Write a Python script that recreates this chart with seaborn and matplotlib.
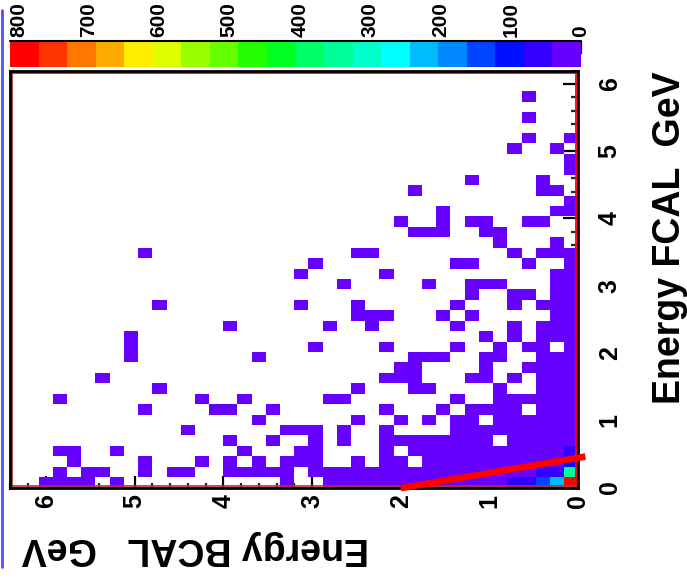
import numpy as np
import pandas as pd
import seaborn as sns
import matplotlib
matplotlib.use("Agg")
import matplotlib.pyplot as plt
from matplotlib.colors import ListedColormap
from matplotlib.ticker import MultipleLocator, FixedLocator
from matplotlib.lines import Line2D

# ---------------- data ----------------
bcal_edges = np.linspace(0.0, 6.4, 41)   # Energy BCAL bins (GeV)
fcal_edges = np.linspace(0.0, 6.2, 41)   # Energy FCAL bins (GeV)

# occupancy map: rows top (high FCAL) -> bottom (FCAL=0),
# columns left (high BCAL) -> right (BCAL=0); '.' = empty bin
cell_rows = [
    "..........|..........|..........|..........",
    "..........|..........|..........|..........",
    "..........|..........|..........|......1...",
    "..........|..........|..........|..........",
    "..........|..........|..........|......1...",
    "..........|..........|..........|..........",
    "..........|..........|..........|......1..1",
    "..........|..........|..........|.....1..1.",
    "..........|..........|..........|.........1",
    "..........|..........|..........|.........1",
    "..........|..........|..........|..1....1..",
    "..........|..........|........1.|.......11.",
    "..........|..........|..........|.........1",
    "..........|..........|..........|1.......11",
    "..........|..........|.......1..|1.11..11..",
    "..........|..........|........11|1..11.....",
    "..........|..........|..........|....1...1.",
    ".........1|..........|....11....|.....1.111",
    "..........|..........|.1........|.11...1..1",
    "..........|..........|1.....1...|........11",
    "..........|..........|...1.....1|..111...11",
    "..........|..........|..........|..1..11.11",
    "..........|1.........|1...1.....|.1...1.111",
    "..........|..........|....111...|1.1.....11",
    "..........|.....1....|..1..1....|.1...1.111",
    "........1.|..........|..........|...1.1.111",
    "........1.|..........|.1....1...|.1..1.11.1",
    "........1.|.......1..|........11|1..11..111",
    "..........|..........|.......11.|...1..1111",
    "......1...|..........|......111.|..11.1.111",
    "..........|1.........|....1...11|....1..111",
    "...1......|...1..1...|..11......|.1..111111",
    ".........1|....11..1.|......1...|1.1111.111",
    "..........|.......1..|....1..1.1|.11.111111",
    "..........|..1......1|11.1..1...|.111111111",
    "..........|.....1..1.|.1.1..1111|1111.11111",
    "...11..1..|......1...|11....1.11|111111111a",
    "....1....1|...1.1.1.1|11..1.11.1|111111111b",
    "...1.11..1|.11..11111|.111111111|1111111aag",
    "..1111.1..|.........1|..11111111|11111aacdr",
]
# approximate entries per bin for each colour code
level_counts = {"1": 15, "a": 60, "b": 100, "c": 140, "d": 220, "g": 340, "r": 790}

# ROOT-like palette, 20 bands from 0 to the top of the z range
palette_colors = [
    "#6600ff", "#3300ff", "#0011ff", "#0044ff", "#0088ff",
    "#00bbff", "#00ffff", "#00ffcc", "#00ff99", "#00ff66",
    "#00ff22", "#22ff00", "#66ff00", "#99ff00", "#ddff00",
    "#ffee00", "#ffaa00", "#ff7700", "#ff3300", "#ff0000",
]
z_max = 812
z_ticks = [0, 100, 200, 300, 400, 500, 600, 700, 800]
bcal_ticks = [0, 1, 2, 3, 4, 5, 6]
fcal_ticks = [0, 1, 2, 3, 4, 5, 6]
cut_bcal = [2.0, -0.08]
cut_fcal = [-0.01, 0.46]

# ---------------- table ----------------
recs = []
n = len(cell_rows)
for r, row in enumerate(cell_rows):
    row = row.replace("|", "")
    j = n - 1 - r
    for k, ch in enumerate(row):
        if ch == ".":
            continue
        i = len(row) - 1 - k
        recs.append({
            "bcal": 0.5 * (bcal_edges[i] + bcal_edges[i + 1]),
            "fcal": 0.5 * (fcal_edges[j] + fcal_edges[j + 1]),
            "count": level_counts[ch],
        })
df = pd.DataFrame(recs)

# ---------------- figure ----------------
sns.set_theme(style="white")
plt.rcParams["font.family"] = ["Liberation Sans", "DejaVu Sans"]
plt.rcParams["font.weight"] = "bold"

W, H = 687, 579
fig = plt.figure(figsize=(W / 100, H / 100), dpi=100)
fig.patch.set_facecolor("white")

def rect(x0, y0, x1, y1):
    return [x0 / W, 1 - y1 / H, (x1 - x0) / W, (y1 - y0) / H]

ax = fig.add_axes(rect(10.3, 70.5, 578.3, 487.5))
cax = fig.add_axes(rect(10, 41, 581, 67))

cmap = ListedColormap(palette_colors)
sns.histplot(data=df, x="bcal", y="fcal", weights="count",
             bins=[bcal_edges, fcal_edges], cmap=cmap, vmin=0, vmax=z_max,
             ax=ax, cbar=False)
mesh = ax.collections[0]

ax.set_xlim(6.4, 0)
ax.set_ylim(0, 6.2)
ax.set_xlabel("")
ax.set_ylabel("")
ax.xaxis.set_major_locator(FixedLocator(bcal_ticks))
ax.xaxis.set_minor_locator(MultipleLocator(0.2))
ax.yaxis.set_major_locator(FixedLocator(fcal_ticks))
ax.yaxis.set_minor_locator(MultipleLocator(0.2))
ax.yaxis.tick_right()

ax.tick_params(axis="x", which="major", direction="in", length=8.5, width=1.6,
               bottom=True, top=False, pad=5, labelsize=18, labelrotation=90,
               colors="black")
ax.tick_params(axis="x", which="minor", direction="in", length=3.8, width=1.6,
               bottom=True, top=False)
ax.tick_params(axis="y", which="major", direction="in", length=11, width=1.6,
               right=True, left=False, labelright=True, labelleft=False,
               pad=14, labelsize=18, labelrotation=90, colors="black")
ax.tick_params(axis="y", which="minor", direction="in", length=5, width=1.6,
               right=True, left=False)
for lab in ax.get_yticklabels():
    lab.set_va("center")

for s in ax.spines.values():
    s.set_visible(True)
    s.set_color("black")
    s.set_linewidth(2.0)

# inner red frame (ROOT frame border)
dx, dy = 2.0 / 568, 2.0 / 417
ax.plot([0, 1], [1 - dy, 1 - dy], transform=ax.transAxes, color="#ff0000", lw=1.3, clip_on=False)
ax.plot([1 - dx, 1 - dx], [0, 1], transform=ax.transAxes, color="#ff0000", lw=1.3, clip_on=False)
ax.plot([dx, dx], [0, 1], transform=ax.transAxes, color="#b03428", lw=1.2, clip_on=False)
ax.plot([0, 1], [dy, dy], transform=ax.transAxes, color="#b03428", lw=1.2, clip_on=False)

# red cut line
ax.plot(cut_bcal, cut_fcal, color="#ff0000", lw=4.8, clip_on=False,
        solid_capstyle="butt", zorder=5)

# colour bar on top
cb = fig.colorbar(mesh, cax=cax, orientation="horizontal", ticks=z_ticks)
cb.outline.set_visible(False)
cax.invert_xaxis()
cax.xaxis.set_ticks_position("top")
cax.tick_params(axis="x", which="major", direction="in", length=9, width=1.6,
                top=True, bottom=False, labeltop=True, labelbottom=False,
                labelsize=15, labelrotation=90, pad=3, colors="black")
cax.minorticks_off()
cax.plot([0, 1], [1, 1], transform=cax.transAxes, color="black", lw=1.5, clip_on=False)

# axis titles
fig.text(22 / W, 1 - 548 / H, "Energy BCAL   GeV", rotation=180,
         ha="left", va="center", fontsize=27, fontweight="bold", color="black")
fig.text(670 / W, 1 - 238 / H, "Energy FCAL  GeV", rotation=90,
         ha="center", va="center", fontsize=27, fontweight="bold", color="black")

# pad border on the left
fig.add_artist(Line2D([1.5 / W, 1.5 / W], [1 - 10 / H, 1 - 567 / H],
                      color="#5050ff", lw=2.0))

fig.savefig("out.png", dpi=100)
